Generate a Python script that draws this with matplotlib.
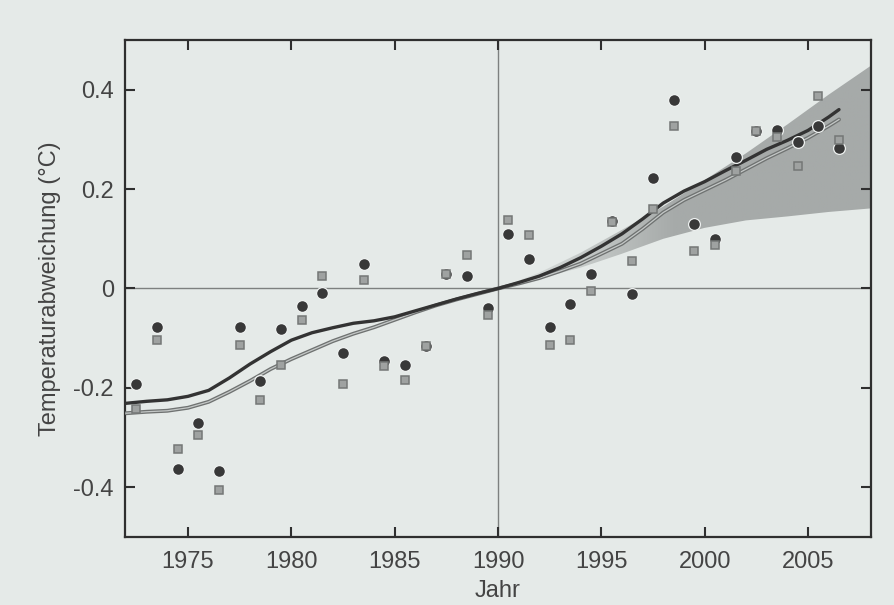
import numpy as np
import matplotlib.pyplot as plt
from matplotlib.colors import LinearSegmentedColormap

# Jahresmittel der Temperaturabweichung (zwei Datensaetze), Mitte des Jahres
years = [1972.5, 1973.5, 1974.5, 1975.5, 1976.5, 1977.5, 1978.5, 1979.5,
         1980.5, 1981.5, 1982.5, 1983.5, 1984.5, 1985.5, 1986.5, 1987.5,
         1988.5, 1989.5, 1990.5, 1991.5, 1992.5, 1993.5, 1994.5, 1995.5,
         1996.5, 1997.5, 1998.5, 1999.5, 2000.5, 2001.5, 2002.5, 2003.5,
         2004.5, 2005.5, 2006.5]
circles = [-0.192, -0.078, -0.364, -0.271, -0.367, -0.078, -0.186, -0.082,
           -0.035, -0.009, -0.130, 0.049, -0.145, -0.154, -0.115, 0.029,
           0.026, -0.040, 0.110, 0.060, -0.078, -0.032, 0.030, 0.135,
           -0.012, 0.222, 0.379, 0.130, 0.100, 0.265, 0.317, 0.318,
           0.294, 0.327, 0.283]
squares = [-0.243, -0.103, -0.322, -0.294, -0.405, -0.113, -0.224, -0.153,
           -0.064, 0.026, -0.193, 0.018, -0.155, -0.185, -0.115, 0.029,
           0.068, -0.053, 0.137, 0.107, -0.113, -0.103, -0.005, 0.134,
           0.056, 0.159, 0.326, 0.076, 0.087, 0.237, 0.317, 0.304,
           0.247, 0.388, 0.299]

# geglaettete Trends
trend_years = [1972, 1973, 1974, 1975, 1976, 1977, 1978, 1979, 1980, 1981,
               1982, 1983, 1984, 1985, 1986, 1987, 1988, 1989, 1990, 1991,
               1992, 1993, 1994, 1995, 1996, 1997, 1998, 1999, 2000, 2001,
               2002, 2003, 2004, 2005, 2006, 2006.5]
trend_dark = [-0.231, -0.227, -0.224, -0.217, -0.205, -0.180, -0.152, -0.127,
              -0.104, -0.089, -0.079, -0.070, -0.065, -0.057, -0.045, -0.033,
              -0.021, -0.010, 0.0, 0.012, 0.025, 0.042, 0.062, 0.085,
              0.110, 0.140, 0.172, 0.196, 0.215, 0.237, 0.258, 0.280,
              0.298, 0.318, 0.345, 0.360]
trend_grey = [-0.251, -0.248, -0.246, -0.240, -0.228, -0.208, -0.186, -0.162,
              -0.142, -0.124, -0.106, -0.091, -0.078, -0.063, -0.048, -0.034,
              -0.022, -0.011, 0.0, 0.010, 0.021, 0.035, 0.050, 0.070,
              0.090, 0.120, 0.153, 0.178, 0.198, 0.218, 0.240, 0.262,
              0.282, 0.303, 0.327, 0.340]

# Projektionsbereich ab 1990
fan_years = [1990, 1992, 1994, 1996, 1998, 2000, 2002, 2004, 2006, 2008]
fan_upper = [0.0, 0.032, 0.072, 0.118, 0.165, 0.218, 0.272, 0.330, 0.390, 0.447]
fan_lower = [0.0, 0.020, 0.042, 0.070, 0.100, 0.122, 0.137, 0.145, 0.154, 0.161]

xticks = [1975, 1980, 1985, 1990, 1995, 2000, 2005]
yticks = [-0.4, -0.2, 0, 0.2, 0.4]
ytick_labels = ['-0.4', '-0.2', '0', '0.2', '0.4']

bg = '#e5eae8'
txt = '#444444'
plt.rcParams['font.family'] = ['Liberation Sans', 'DejaVu Sans']

fig = plt.figure(figsize=(8.94, 6.05), dpi=100, facecolor=bg)
ax = fig.add_axes([0.1398, 0.1124, 0.8345, 0.8215], facecolor=bg)

# Faecher mit Verlauf (heller bei 1990, dunkler ab ~1998)
fan = ax.fill_between(fan_years, fan_lower, fan_upper, color='none', lw=0)
cmap = LinearSegmentedColormap.from_list('fan', ['#dde2e0', '#a6aaa9'])
grad = np.clip(np.linspace(-0.1, 2.2, 256), 0, 1)[None, :]
im = ax.imshow(grad, extent=[1990, 2008, 0, 0.46], aspect='auto', cmap=cmap,
               vmin=0, vmax=1, origin='lower', zorder=1)
im.set_clip_path(fan.get_paths()[0], ax.transData)

ax.axhline(0, color='#7d807f', lw=1.0, zorder=0.5)
ax.axvline(1990, color='#7d807f', lw=1.0, zorder=0.5)

ax.plot(trend_years, trend_grey, color='#6f7271', lw=2.8, zorder=3,
        solid_capstyle='round')
ax.plot(trend_years, trend_grey, color='#c4c8c7', lw=0.9, zorder=3.1)
ax.plot(trend_years, trend_dark, color='#333333', lw=2.4, zorder=3.2,
        solid_capstyle='round')

ax.plot(years, circles, ls='none', marker='o', ms=8.5, mfc='#383838',
        mec='#eef1f0', mew=0.9, zorder=4)
ax.plot(years, squares, ls='none', marker='s', ms=6, mfc='#9fa2a1',
        mec='#747776', mew=1.1, zorder=5)

ax.set_xlim(1971.95, 2008.05)
ax.set_ylim(-0.5, 0.5)
ax.set_xticks(xticks)
ax.set_yticks(yticks)
ax.set_yticklabels(ytick_labels)

for s in ax.spines.values():
    s.set_color('#2f2f2f')
    s.set_linewidth(1.6)
ax.tick_params(direction='in', top=True, right=True, length=7, width=1.5,
               color='#2f2f2f', labelsize=17, labelcolor=txt)
ax.tick_params(axis='x', pad=10)
ax.tick_params(axis='y', pad=8)

ax.set_xlabel('Jahr', fontsize=17, color=txt, labelpad=5)
ax.set_ylabel('Temperaturabweichung (°C)', fontsize=17, color=txt, labelpad=9)

fig.savefig('out.png', dpi=100, facecolor=bg)
